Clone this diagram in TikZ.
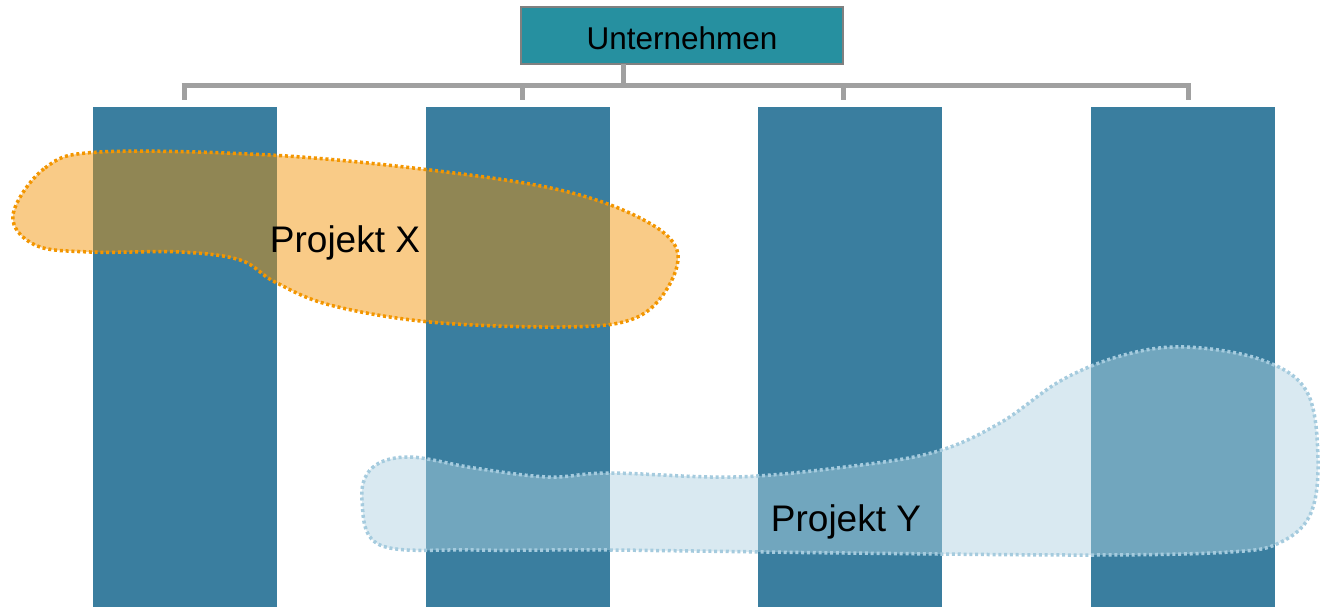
\documentclass[tikz,border=0pt]{standalone}
\usepackage{fontspec}
\setmainfont{Liberation Sans}
\begin{document}
\begin{tikzpicture}[x=1pt,y=-1pt,
  col/.style={fill=colblue, draw=none, minimum width=184pt, minimum height=500pt, inner sep=0pt, anchor=north west},
  conn/.style={draw=conngray, line width=5pt},
  blobx/.style={fill=blobOr, fill opacity=0.47, draw=dotOr, line width=3.5pt, dash pattern=on 3pt off 2.8pt},
  bloby/.style={fill=blobBl, fill opacity=0.48, draw=dotBl, line width=3.5pt, dash pattern=on 3pt off 2.8pt},
  lbl/.style={font=\fontsize{37}{42}\selectfont, text=black, inner sep=0pt}
]
\definecolor{colblue}{RGB}{58,126,159}
\definecolor{boxteal}{RGB}{38,144,160}
\definecolor{conngray}{RGB}{160,160,160}
\definecolor{blobOr}{RGB}{242,145,0}
\definecolor{dotOr}{RGB}{243,150,0}
\definecolor{blobBl}{RGB}{175,210,225}
\definecolor{dotBl}{RGB}{165,203,222}
\useasboundingbox (0,0) rectangle (1321,607);

\node[col] (c1) at (93,107) {};
\node[col] (c2) at (426,107) {};
\node[col] (c3) at (758,107) {};
\node[col] (c4) at (1091,107) {};

\node[fill=boxteal, draw=gray, line width=2pt, minimum width=322pt, minimum height=57pt, inner sep=0pt,
  text height=28pt, text depth=0pt,
  font=\fontsize{31.5}{36}\selectfont] (u) at (682,35.5) {Unternehmen};

\coordinate (st) at (623,64);
\coordinate (hl) at (184,86);
\coordinate (hr) at (1188,86);
\coordinate (d1) at (184,100);
\coordinate (d2) at (522,100);
\coordinate (d3) at (843,100);
\coordinate (d4) at (1188,100);
\draw[conn] (st) -- (st |- hl);
\draw[conn] ([xshift=-2.5pt]hl) -- ([xshift=2.5pt]hr);
\draw[conn] (d1 |- hl) -- (d1);
\draw[conn] (d2 |- hl) -- (d2);
\draw[conn] (d3 |- hl) -- (d3);
\draw[conn] (d4 |- hl) -- (d4);

\draw[blobx] plot[smooth cycle, tension=0.6] coordinates {
  (13,215) (45,168) (100,152) (270,155) (430,170) (560,190) (640,218)
  (677,250) (665,292) (630,320) (560,327) (430,322) (330,305) (275,282)
  (240,260) (180,252) (90,252) (35,245)};

\draw[bloby] plot[smooth cycle, tension=0.6] coordinates {
  (362,500) (372,468) (409,457) (474,468) (548,477) (610,473) (734,477)
  (845,467) (935,452) (1000,423) (1062,380) (1124,355) (1186,347)
  (1262,360) (1307,392) (1318,460) (1310,515) (1279,543) (1230,552)
  (1093,555) (845,553) (610,550) (474,550) (380,545)};

\node[lbl] (px) at (345,243) {Projekt X};
\node[lbl] (py) at (846,522) {Projekt Y};
\end{tikzpicture}
\end{document}
